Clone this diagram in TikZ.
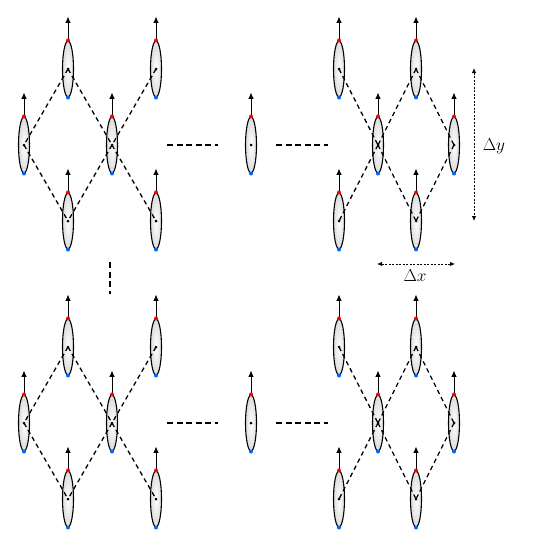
\documentclass[tikz,border=0pt]{standalone}
\usetikzlibrary{shapes.geometric,arrows.meta}
\tikzset{
  spin/.style={ellipse, draw=black, line width=1.1pt, minimum width=11pt, minimum height=56pt, inner sep=0pt,
    shading=radial, inner color=white, outer color=black!14},
  link/.style={line width=1.3pt, dash pattern=on 4.5pt off 3.5pt},
  chain/.style={line width=1.3pt, dash pattern=on 6pt off 3.5pt},
  meas/.style={line width=0.9pt, dash pattern=on 2pt off 1.5pt, {Latex[length=5pt,width=4.5pt]}-{Latex[length=5pt,width=4.5pt]}},
  moment/.style={line width=1pt, -{Latex[length=6.5pt,width=5.5pt]}},
  reddot/.style={circle, fill=red, inner sep=0pt, minimum size=4pt},
  bluedot/.style={circle, fill=blue!60!cyan, inner sep=0pt, minimum size=4pt},
  cdot/.style={circle, fill=black, inner sep=0pt, minimum size=3pt}
}
% spin node with arrow, red/blue end dots and centre dot
\newcommand\spinat[2]{%
  \node[spin] (#1) at (#2) {};
  \draw[moment] (#1.north) -- ++(0,-24);
  \node[reddot] (#1r) at (#1.north) {};
  \node[bluedot] (#1b) at (#1.south) {};
  \node[cdot] (#1c) at (#1.center) {};
}
\newcommand\leftblock[2]{% prefix, y offset
  \begin{scope}[yshift=-#2pt]
  \spinat{#1t1}{68,69}\spinat{#1t2}{156,69}
  \spinat{#1m1}{24,145}\spinat{#1m2}{112,145}
  \spinat{#1b1}{68,221}\spinat{#1b2}{156,221}
  \end{scope}
  \draw[link] (#1t1.center) -- (#1m1.center);
  \draw[link] (#1t1.center) -- (#1m2.center);
  \draw[link] (#1t2.center) -- (#1m2.center);
  \draw[link] (#1m1.center) -- (#1b1.center);
  \draw[link] (#1m2.center) -- (#1b1.center);
  \draw[link] (#1m2.center) -- (#1b2.center);
}
\newcommand\rightblock[2]{%
  \begin{scope}[yshift=-#2pt]
  \spinat{#1t1}{339,69}\spinat{#1t2}{416,69}
  \spinat{#1m1}{378,145}\spinat{#1m2}{454,145}
  \spinat{#1b1}{339,221}\spinat{#1b2}{416,221}
  \end{scope}
  \draw[link] (#1t1.center) -- (#1m1.center);
  \draw[link] (#1t2.center) -- (#1m1.center);
  \draw[link] (#1t2.center) -- (#1m2.center);
  \draw[link] (#1m1.center) -- (#1b1.center);
  \draw[link] (#1m1.center) -- (#1b2.center);
  \draw[link] (#1m2.center) -- (#1b2.center);
}
\begin{document}
\begin{tikzpicture}[x=1pt,y=-1pt]
\useasboundingbox (0,0) rectangle (540,551);
\leftblock{A}{0}
\rightblock{B}{0}
\leftblock{C}{278}
\rightblock{D}{278}
\spinat{M}{251,145}
\spinat{N}{251,423}
% chain dashes
\coordinate (h1a) at (167,145); \coordinate (h1b) at (218,145);
\coordinate (h2a) at (276,145); \coordinate (h2b) at (328,145);
\coordinate (h3a) at (167,423); \coordinate (h3b) at (218,423);
\coordinate (h4a) at (276,423); \coordinate (h4b) at (328,423);
\coordinate (v1a) at (110,262); \coordinate (v1b) at (110,294);
\draw[chain] (h1a) -- (h1b);
\draw[chain] (h2a) -- (h2b);
\draw[chain] (h3a) -- (h3b);
\draw[chain] (h4a) -- (h4b);
\draw[chain] (v1a) -- (v1b);
% measures
\coordinate (dyT) at (474,68); \coordinate (dyB) at (474,221);
\coordinate (dxL) at (377,264); \coordinate (dxR) at (455,264);
\draw[meas] (dyT) -- (dyB);
\draw[meas] (dxL) -- (dxR);
\node[font=\fontsize{17}{20}\selectfont] (dy) at (494,146) {$\Delta y$};
\node[font=\fontsize{17}{20}\selectfont] (dx) at (415,276) {$\Delta x$};
\end{tikzpicture}
\end{document}
